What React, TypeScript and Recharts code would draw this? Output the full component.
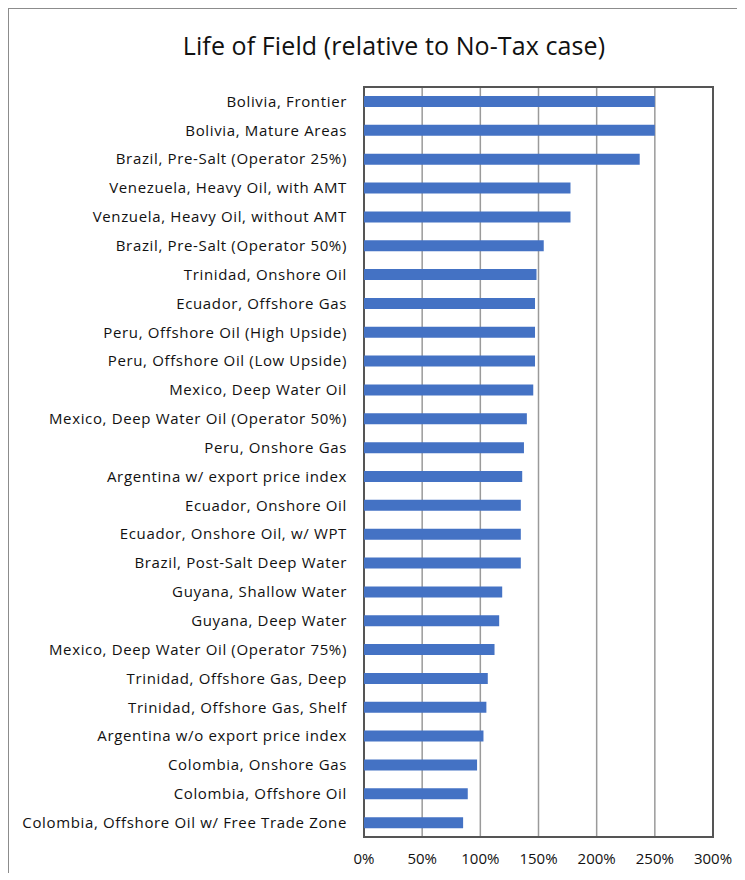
import React from 'react';
import { BarChart, Bar, XAxis, YAxis, CartesianGrid, ReferenceArea } from 'recharts';

const CATEGORIES = [
  'Bolivia, Frontier',
  'Bolivia, Mature Areas',
  'Brazil, Pre-Salt (Operator 25%)',
  'Venezuela, Heavy Oil, with AMT',
  'Venzuela, Heavy Oil, without AMT',
  'Brazil, Pre-Salt (Operator 50%)',
  'Trinidad, Onshore Oil',
  'Ecuador, Offshore Gas',
  'Peru, Offshore Oil (High Upside)',
  'Peru, Offshore Oil (Low Upside)',
  'Mexico, Deep Water Oil',
  'Mexico, Deep Water Oil (Operator 50%)',
  'Peru, Onshore Gas',
  'Argentina w/  export price index',
  'Ecuador, Onshore Oil',
  'Ecuador, Onshore Oil, w/ WPT',
  'Brazil, Post-Salt Deep Water',
  'Guyana, Shallow Water',
  'Guyana, Deep Water',
  'Mexico, Deep Water Oil (Operator 75%)',
  'Trinidad, Offshore Gas, Deep',
  'Trinidad, Offshore Gas, Shelf',
  'Argentina w/o export price index',
  'Colombia, Onshore Gas ',
  'Colombia, Offshore Oil',
  'Colombia, Offshore Oil w/ Free Trade Zone',
];

// life of field relative to the no-tax case (1 = 100%)
const LIFE_OF_FIELD = [
  2.5, 2.5, 2.37, 1.775, 1.775, 1.545, 1.483, 1.47, 1.47, 1.47, 1.455, 1.4, 1.375,
  1.36, 1.348, 1.348, 1.348, 1.188, 1.162, 1.122, 1.064, 1.052, 1.027, 0.972, 0.892, 0.852,
];

const X_TICKS = [0, 0.5, 1, 1.5, 2, 2.5, 3];

const FONT = '"Open Sans", "Noto Sans", sans-serif';

export default function App() {
  const data = CATEGORIES.map((name, i) => ({ name, value: LIFE_OF_FIELD[i] }));

  return (
    <div style={{ position: 'relative', width: 736, height: 864, borderLeft: '1px solid #8c8c8c', borderTop: '1px solid #8c8c8c', fontFamily: FONT }}>
      <div style={{ position: 'absolute', top: 19, left: 0, width: 770, textAlign: 'center', fontSize: 25, lineHeight: 'normal', color: '#111', whiteSpace: 'nowrap', letterSpacing: 0.1 }}>
        Life of Field (relative to No-Tax case)
      </div>
      <BarChart
        width={736}
        height={864}
        data={data}
        layout="vertical"
        margin={{ top: 78, right: 32, bottom: 0, left: 0 }}
        barCategoryGap={0}
      >
        <CartesianGrid horizontal={false} stroke="#9a9a9a" strokeWidth={1.5} />
        <XAxis
          type="number"
          domain={[0, 3]}
          ticks={X_TICKS}
          interval={0}
          tickFormatter={(v: number) => `${Math.round(v * 100)}%`}
          axisLine={false}
          tickLine={false}
          tickSize={0}
          tickMargin={16}
          height={36}
          tick={{ fill: '#111', fontSize: 15, fontFamily: FONT }}
        />
        <YAxis
          type="category"
          dataKey="name"
          width={355}
          interval={0}
          axisLine={false}
          tickLine={false}
          tickSize={0}
          tickMargin={17}
          tick={{ fill: '#111', fontSize: 15, fontFamily: FONT, letterSpacing: 0.65 }}
        />
        <ReferenceArea x1={0} x2={3} fill="none" stroke="#555" strokeWidth={2} ifOverflow="visible" />
        <Bar dataKey="value" fill="#4472C4" barSize={11} isAnimationActive={false} />
      </BarChart>
    </div>
  );
}
